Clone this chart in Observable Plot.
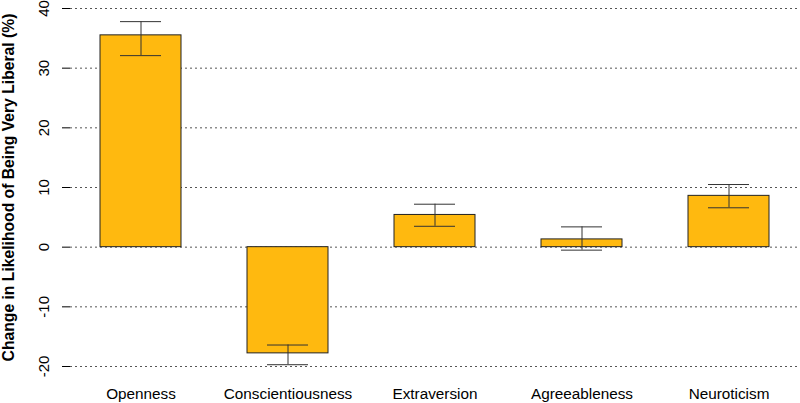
<!DOCTYPE html>
<html>
<head>
<meta charset="utf-8">
<script src="https://cdn.jsdelivr.net/npm/d3@7"></script>
<script src="https://cdn.jsdelivr.net/npm/@observablehq/plot@0.6"></script>
<style>
  html, body { margin: 0; padding: 0; background: #fff; }
  svg { display: block; }
</style>
</head>
<body>
<div id="chart"></div>
<script>
const categories = ["Openness", "Conscientiousness", "Extraversion", "Agreeableness", "Neuroticism"];
const values = [35.5, -17.8, 5.4, 1.3, 8.6];
const lower = [32.1, -19.7, 3.5, -0.5, 6.6];
const upper = [37.8, -16.4, 7.2, 3.4, 10.5];
const yTicks = [-20, -10, 0, 10, 20, 30, 40];
const yTitle = "Change in Likelihood of Being Very Liberal (%)";

const data = categories.map((c, i) => ({cat: c, value: values[i], lo: lower[i], hi: upper[i]}));

const font = "'Liberation Sans', Arial, sans-serif";

const chart = Plot.plot({
  width: 800,
  height: 403,
  marginLeft: 70,
  marginRight: 0,
  marginTop: 8,
  marginBottom: 37,
  style: {fontFamily: font, fontSize: "15px", background: "#fff", color: "#000"},
  x: {type: "band", domain: categories, paddingInner: 0.447, paddingOuter: 0.19, axis: null},
  y: {domain: [-20, 40], axis: null},
  marks: [
    Plot.ruleY(yTicks, {stroke: "#555", strokeWidth: 1, strokeDasharray: "2,3"}),
    Plot.barY(data, {x: "cat", y: "value", fill: "#FFB90F", stroke: "#222", strokeWidth: 1}),
    Plot.ruleX(data, {x: "cat", y1: "lo", y2: "hi", stroke: "#333", strokeWidth: 1}),
    Plot.tickY(data, {x: "cat", y: "lo", stroke: "#333", strokeWidth: 1, insetLeft: 20, insetRight: 20}),
    Plot.tickY(data, {x: "cat", y: "hi", stroke: "#333", strokeWidth: 1, insetLeft: 20, insetRight: 20}),
    Plot.axisY({ticks: yTicks, tickSize: 8, tickFormat: () => "", label: null, stroke: "#000"}),
    Plot.ruleX([{a: yTicks[0], b: yTicks[yTicks.length - 1]}], {y1: "a", y2: "b", dx: -365, stroke: "#000"}),
    Plot.text(yTicks, {y: d => d, text: d => String(d), frameAnchor: "left", textAnchor: "middle", dx: -26, rotate: -90, fontSize: 15, fill: "#000"}),
    Plot.text([yTitle], {frameAnchor: "left", textAnchor: "middle", dx: -62, dy: 0, rotate: -90, fontSize: 15.7, fontWeight: "bold", fill: "#000"}),
    Plot.text(categories, {x: d => d, frameAnchor: "bottom", dy: 32, fontSize: 15.3, fill: "#000"})
  ]
});
document.getElementById("chart").appendChild(chart);
</script>
</body>
</html>
